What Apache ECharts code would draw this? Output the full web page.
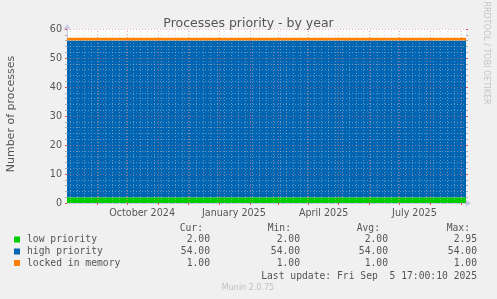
<!DOCTYPE html>
<html><head><meta charset="utf-8">
<script src="https://cdn.jsdelivr.net/npm/echarts@6/dist/echarts.min.js"></script>
<style>html,body{margin:0;padding:0;background:#f0f0f0}#c{width:497px;height:299px}</style>
</head><body><div id="c"></div>
<script>
// ---- data ----
const startTime = '2024-08-01T17:00:10Z';
const endTime = '2025-09-05T17:00:10Z';
const sampleDates = ['2024-08-01T17:00:10Z','2024-09-01T00:00:00Z','2024-10-01T00:00:00Z','2024-11-01T00:00:00Z','2024-12-01T00:00:00Z','2025-01-01T00:00:00Z','2025-02-01T00:00:00Z','2025-03-01T00:00:00Z','2025-04-01T00:00:00Z','2025-05-01T00:00:00Z','2025-06-01T00:00:00Z','2025-07-01T00:00:00Z','2025-08-01T00:00:00Z','2025-09-01T00:00:00Z','2025-09-05T17:00:10Z'];
const lowPriority    = [2,2,2,2,2,2,2,2,2,2,2,2,2,2,2];
const highPriority   = [54,54,54,54,54,54,54,54,54,54,54,54,54,54,54];
const lockedInMemory = [1,1,1,1,1,1,1,1,1,1,1,1,1,1,1];
const seriesNames = ['low priority','high priority','locked in memory'];
const seriesColors = ['#00CC00','#0066B3','#FF8000'];
const monthStarts = ['2024-09-01','2024-10-01','2024-11-01','2024-12-01','2025-01-01','2025-02-01','2025-03-01','2025-04-01','2025-05-01','2025-06-01','2025-07-01','2025-08-01','2025-09-01'];
const xLabelDates = ['2024-10-16','2025-01-16','2025-04-16','2025-07-16'];
const xLabelTexts = ['October 2024','January 2025','April 2025','July 2025'];
const yMajor = [0,10,20,30,40,50,60];
const yMinor = [2,4,6,8,12,14,16,18,22,24,26,28,32,34,36,38,42,44,46,48,52,54,56,58];
const statHeaders = ['Cur:','Min:','Avg:','Max:'];
const statCur = ['2.00','54.00','1.00'];
const statMin = ['2.00','54.00','1.00'];
const statAvg = ['2.00','54.00','1.00'];
const statMax = ['2.95','54.00','1.00'];
const lastUpdate = 'Last update: Fri Sep  5 17:00:10 2025';

// ---- build ----
const T = s => Date.parse(s.length === 10 ? s + 'T00:00:00Z' : s);
const t0 = T(startTime), t1 = T(endTime);
const valuesList = [lowPriority, highPriority, lockedInMemory];

// weekly minor gridlines (Mondays)
const weekLines = [];
for (let t = T('2024-08-05'); t < t1; t += 7 * 86400000) weekLines.push(t);

const gridMajor = {color: 'rgba(230,110,110,0.55)', width: 1, type: [1, 2]};
const gridMinor = {color: 'rgba(200,200,200,0.5)', width: 1, type: [1, 2]};

const markData = []
  .concat(weekLines.map(t => ({xAxis: t, lineStyle: gridMinor})))
  .concat(yMinor.map(v => ({yAxis: v, lineStyle: gridMinor})))
  .concat(monthStarts.map(d => ({xAxis: T(d), lineStyle: gridMajor})))
  .concat(yMajor.slice(1).map(v => ({yAxis: v, lineStyle: gridMajor})));

const series = valuesList.map((vals, i) => ({
  name: seriesNames[i], type: 'line', stack: 'total', symbol: 'none', z: 2,
  xAxisIndex: 0, yAxisIndex: 0,
  lineStyle: {width: 0}, areaStyle: {color: seriesColors[i], opacity: 1},
  itemStyle: {color: seriesColors[i]},
  animation: false,
  data: sampleDates.map((d, j) => [T(d), vals[j]])
}));
series.push({
  type: 'line', data: [], z: 3, animation: false, xAxisIndex: 1, yAxisIndex: 0,
  markLine: {silent: true, symbol: ['none', 'none'], label: {show: false}, animation: false, data: markData}
});

const labelMap = {};
xLabelDates.forEach((d, i) => { labelMap[T(d)] = xLabelTexts[i]; });

const mono = 'DejaVu Sans Mono';
const monoSize = 9.7;
const rowsY = [239.5, 251.5, 263];
const graphics = [];
const headerRight = [203, 291, 380, 470];
const valueRight = [210, 300, 388, 477];
const cols = [statCur, statMin, statAvg, statMax];
statHeaders.forEach((h, k) => graphics.push({type: 'text', x: headerRight[k], y: 228,
  style: {text: h, font: monoSize + 'px "' + mono + '"', fill: '#555', textAlign: 'right', textVerticalAlign: 'middle'}}));
seriesNames.forEach((n, i) => {
  graphics.push({type: 'rect', shape: {x: 14, y: rowsY[i] - 3, width: 6, height: 6}, style: {fill: seriesColors[i]}});
  graphics.push({type: 'text', x: 27, y: rowsY[i],
    style: {text: n, font: monoSize + 'px "' + mono + '"', fill: '#555', textVerticalAlign: 'middle'}});
  cols.forEach((c, k) => graphics.push({type: 'text', x: valueRight[k], y: rowsY[i],
    style: {text: c[i], font: monoSize + 'px "' + mono + '"', fill: '#555', textAlign: 'right', textVerticalAlign: 'middle'}}));
});
graphics.push({type: 'text', x: 477, y: 276,
  style: {text: lastUpdate, font: monoSize + 'px "' + mono + '"', fill: '#555', textAlign: 'right', textVerticalAlign: 'middle'}});
graphics.push({type: 'text', x: 248, y: 288,
  style: {text: 'Munin 2.0.75', font: '8px "DejaVu Sans"', fill: '#c0c0c0', textAlign: 'center', textVerticalAlign: 'middle'}});
graphics.push({type: 'text', x: 486, y: 53, rotation: -Math.PI / 2,
  style: {text: 'RRDTOOL / TOBI OETIKER', font: '8px "DejaVu Sans"', fill: '#c4c4c4', textAlign: 'center', textVerticalAlign: 'middle'}});
graphics.push({type: 'text', x: 11, y: 114, rotation: Math.PI / 2,
  style: {text: 'Number of processes', font: '11px "DejaVu Sans"', fill: '#555', textAlign: 'center', textVerticalAlign: 'middle'}});

const chart = echarts.init(document.getElementById('c'), null, {renderer: 'canvas'});
chart.setOption({
  backgroundColor: '#f0f0f0',
  animation: false,
  title: {text: 'Processes priority - by year', left: 'center', top: 12,
    textStyle: {fontSize: 12.5, fontWeight: 'normal', color: '#555', fontFamily: 'DejaVu Sans'}},
  grid: {left: 67, right: 31, top: 29, bottom: 96, show: true, backgroundColor: '#ffffff', borderWidth: 0},
  xAxis: [{
    type: 'time', min: t0, max: t1, show: false
  }, {
    type: 'value', min: t0, max: t1, position: 'bottom',
    axisLine: {show: true, lineStyle: {color: '#c8c8e8'}, symbol: ['none', 'arrow'], symbolSize: [6, 6], symbolOffset: [0, 5]},
    axisTick: {show: true, length: 2, customValues: monthStarts.map(T), lineStyle: {color: '#e05050'}},
    axisLabel: {customValues: xLabelDates.map(T), formatter: v => labelMap[v] || '',
      color: '#555', fontSize: 9.6, fontFamily: 'DejaVu Sans', margin: 5},
    splitLine: {show: false}
  }],
  yAxis: [{
    type: 'value', min: 0, max: 60, interval: 10,
    axisLine: {show: true, lineStyle: {color: '#c8c8e8'}, symbol: ['none', 'arrow'], symbolSize: [6, 6], symbolOffset: [0, 5]},
    axisTick: {show: true, length: 2, lineStyle: {color: '#e05050'}},
    minorTick: {show: true, splitNumber: 5, length: 2, lineStyle: {color: '#aaa'}},
    axisLabel: {color: '#555', fontSize: 9.6, fontFamily: 'DejaVu Sans', margin: 5},
    splitLine: {show: false}
  }, {
    type: 'value', min: 0, max: 60, interval: 10, position: 'right',
    axisLine: {show: false},
    axisTick: {show: true, length: 2, lineStyle: {color: '#e05050'}},
    minorTick: {show: true, splitNumber: 5, length: 2, lineStyle: {color: '#aaa'}},
    axisLabel: {show: false}, splitLine: {show: false}
  }],
  series: series,
  graphic: graphics
});
</script></body></html>
